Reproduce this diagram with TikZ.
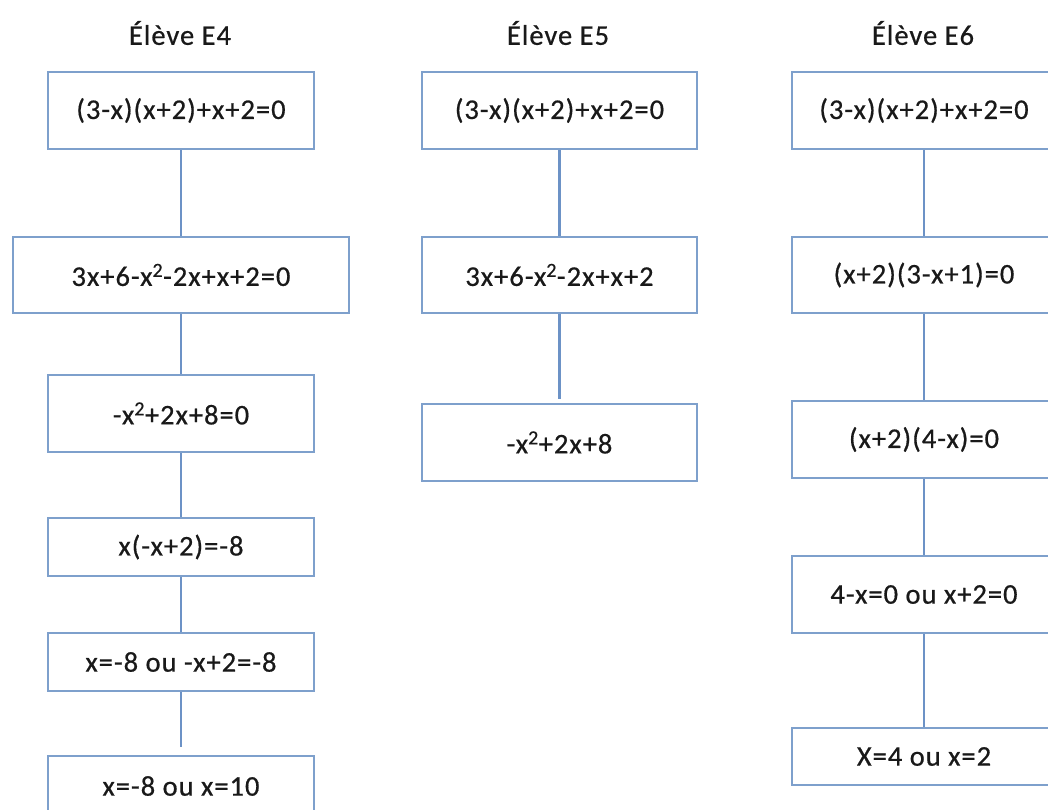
\documentclass[tikz,border=0pt]{standalone}
\usepackage{fontspec}
\setmainfont{Carlito}
\newfontfamily\boxfont[LetterSpace=3.5,FakeBold=0.6]{Carlito}
\definecolor{boxblue}{RGB}{126,160,204}
\definecolor{linkblue}{RGB}{108,146,198}
\begin{document}
\begin{tikzpicture}[x=1pt,y=-1pt,
  box/.style={draw=boxblue, line width=2pt, fill=white, rectangle, inner sep=0pt,
    font=\boxfont\fontsize{28.5}{32}\selectfont, text=black!90},
  title/.style={font=\boxfont\fontsize{28.5}{32}\selectfont, text=black!90, inner sep=0pt},
  link/.style={draw=linkblue, line width=2.8pt}]
\useasboundingbox (0,0) rectangle (1048,809);
\fill[white] (0,0) rectangle (1048,809);
% titles
\node[title] (t4) at (180,33) {Élève E4};
\node[title] (t5) at (558,33) {Élève E5};
\node[title] (t6) at (923,33) {Élève E6};
% E4
\node[box, minimum width=266pt, minimum height=77pt] (a1) at (181,110.5) {(3-x)(x+2)+x+2=0};
\node[box, minimum width=336pt, minimum height=76pt] (a2) at (181,275) {3x+6-x\textsuperscript{2}-2x+x+2=0};
\node[box, minimum width=266pt, minimum height=77pt] (a3) at (181,413.5) {-x\textsuperscript{2}+2x+8=0};
\node[box, minimum width=266pt, minimum height=58pt] (a4) at (181,547) {x(-x+2)=-8};
\node[box, minimum width=266pt, minimum height=58pt] (a5) at (181,662) {x=-8 ou -x+2=-8};
\node[box, minimum width=266pt, minimum height=60pt] (a6) at (181,786) {x=-8 ou x=10};
% E5
\node[box, minimum width=275pt, minimum height=77pt] (b1) at (559.5,110.5) {(3-x)(x+2)+x+2=0};
\node[box, minimum width=275pt, minimum height=76pt] (b2) at (559.5,275) {3x+6-x\textsuperscript{2}-2x+x+2};
\node[box, minimum width=275pt, minimum height=77pt] (b3) at (559.5,442.5) {-x\textsuperscript{2}+2x+8};
% E6
\node[box, minimum width=264pt, minimum height=77pt] (c1) at (924,110.5) {(3-x)(x+2)+x+2=0};
\node[box, minimum width=264pt, minimum height=76pt] (c2) at (924,275) {(x+2)(3-x+1)=0};
\node[box, minimum width=264pt, minimum height=77pt] (c3) at (924,439.5) {(x+2)(4-x)=0};
\node[box, minimum width=264pt, minimum height=77pt] (c4) at (924,594.5) {4-x=0 ou x+2=0};
\node[box, minimum width=264pt, minimum height=57pt] (c5) at (924,756.5) {X=4 ou x=2};
% connectors
\draw[link] (a1.south) -- (a2.north);
\draw[link] (a2.south) -- (a3.north);
\draw[link] (a3.south) -- (a4.north);
\draw[link] (a4.south) -- (a5.north);
\draw[link, shorten >=8pt] (a5.south) -- (a6.north);
\draw[link] (b1.south) -- (b2.north);
\draw[link, shorten >=4pt] (b2.south) -- (b3.north);
\draw[link] (c1.south) -- (c2.north);
\draw[link] (c2.south) -- (c3.north);
\draw[link] (c3.south) -- (c4.north);
\draw[link] (c4.south) -- (c5.north);
\end{tikzpicture}
\end{document}
